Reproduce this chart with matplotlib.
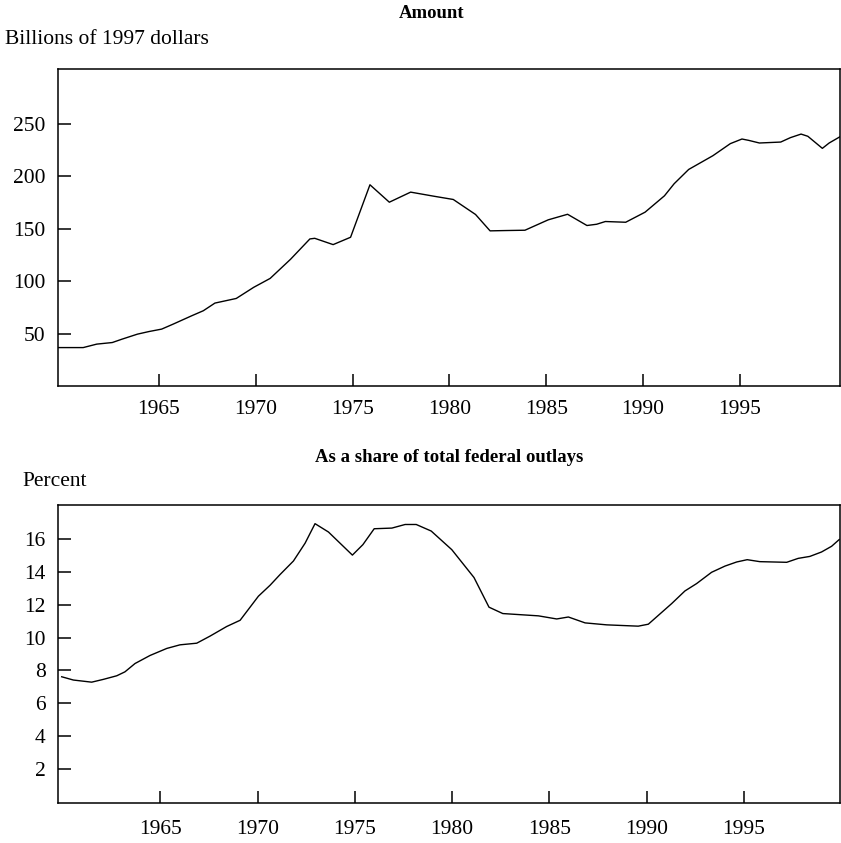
import matplotlib
matplotlib.use("Agg")
import matplotlib.pyplot as plt

plt.rcParams['font.family'] = ['Liberation Serif', 'DejaVu Serif']

# Top panel: amount, billions of 1997 dollars
amount_years = [1959.8, 1961.1, 1961.8, 1962.6, 1963.1, 1963.9, 1964.5, 1965.15, 1965.75,
                1966.7, 1967.3, 1967.9, 1969.0, 1969.9, 1970.75, 1971.8, 1972.8, 1973.05,
                1974.0, 1974.9, 1975.9, 1976.9, 1978.0, 1979.2, 1980.2, 1981.35, 1982.1,
                1982.9, 1983.9, 1985.1, 1986.1, 1987.1, 1987.6, 1988.05, 1989.1, 1990.1,
                1991.1, 1991.6, 1992.35, 1993.6, 1994.5, 1995.1, 1995.45, 1996.0, 1997.1,
                1997.6, 1998.15, 1998.5, 1999.25, 1999.6, 2000.2]
amount_values = [36.6, 36.6, 39.9, 41.4, 44.6, 49.4, 51.9, 54.2, 59.0,
                 66.9, 71.7, 79.0, 83.4, 94.0, 102.5, 120.7, 140.1, 140.7,
                 134.7, 141.7, 191.7, 175.1, 184.7, 180.8, 177.7, 163.4, 147.8,
                 148.1, 148.4, 158.3, 163.6, 152.9, 154.1, 156.7, 156.0, 165.6,
                 181.2, 192.7, 206.3, 219.4, 230.9, 235.3, 234.0, 231.5, 232.4,
                 236.6, 240.0, 237.9, 226.4, 231.5, 237.9]

# Bottom panel: share of total federal outlays, percent
share_years = [1959.93, 1960.53, 1961.47, 1962.07, 1962.76, 1963.18, 1963.7, 1964.47,
               1965.33, 1966.01, 1966.87, 1967.55, 1968.41, 1969.1, 1970.04, 1970.64,
               1971.15, 1971.84, 1972.44, 1972.95, 1973.64, 1974.87, 1975.41, 1975.99,
               1976.9, 1977.58, 1978.15, 1978.92, 1979.98, 1981.12, 1981.89, 1982.6,
               1984.43, 1985.37, 1985.97, 1986.83, 1987.94, 1989.56, 1990.08, 1991.28,
               1991.96, 1992.56, 1993.33, 1994.02, 1994.62, 1995.16, 1995.81, 1997.19,
               1997.78, 1998.38, 1998.98, 1999.5, 1999.89]
share_values = [7.61, 7.41, 7.28, 7.45, 7.67, 7.91, 8.42, 8.91,
                9.34, 9.56, 9.66, 10.09, 10.68, 11.06, 12.53, 13.2,
                13.85, 14.68, 15.77, 16.96, 16.45, 15.04, 15.68, 16.65,
                16.69, 16.91, 16.91, 16.51, 15.37, 13.67, 11.86, 11.47,
                11.33, 11.14, 11.26, 10.9, 10.78, 10.7, 10.82, 12.08,
                12.85, 13.3, 13.99, 14.37, 14.62, 14.76, 14.64, 14.6,
                14.84, 14.96, 15.23, 15.58, 15.99]

x_ticks = [1965, 1970, 1975, 1980, 1985, 1990, 1995]
amount_ticks = [50, 100, 150, 200, 250]
share_ticks = [2, 4, 6, 8, 10, 12, 14, 16]

W, H = 841, 843
fig = plt.figure(figsize=(W / 100, H / 100), dpi=100)

def px_axes(left, top, right, bottom):
    return fig.add_axes([left / W, 1 - bottom / H, (right - left) / W, (bottom - top) / H])

FS = 15.5
FS_T = 13.5

def style(ax, xpad):
    for s in ax.spines.values():
        s.set_linewidth(1.1)
        s.set_color('black')
    ax.tick_params(axis='both', direction='in', length=9, width=1.1,
                   labelsize=FS, colors='black')
    ax.tick_params(axis='x', pad=xpad)
    ax.tick_params(axis='y', pad=9)

ax1 = px_axes(58, 69, 840, 386)
ax1.plot(amount_years, amount_values, color='black', lw=1.0)
ax1.set_xlim(1959.8, 2000.16)
ax1.set_ylim(0, 302)
ax1.set_xticks(x_ticks)
ax1.set_yticks(amount_ticks)
style(ax1, 10)

ax2 = px_axes(58, 505, 840, 803)
ax2.plot(share_years, share_values, color='black', lw=1.0)
ax2.set_xlim(1959.74, 1999.93)
ax2.set_ylim(-0.1, 18.1)
ax2.set_xticks(x_ticks)
ax2.set_yticks(share_ticks)
style(ax2, 12)

fig.text(432 / W, 1 - 13 / H, 'Amount', ha='center', va='center',
         fontsize=FS_T, fontweight='bold')
fig.text(5 / W, 1 - 39 / H, 'Billions of 1997 dollars', ha='left', va='center',
         fontsize=FS)
fig.text(449 / W, 1 - 458 / H, 'As a share of total federal outlays', ha='center',
         va='center', fontsize=FS_T, fontweight='bold')
fig.text(22 / W, 1 - 481 / H, 'Percent', ha='left', va='center', fontsize=FS)

fig.savefig('out.png', dpi=100)
